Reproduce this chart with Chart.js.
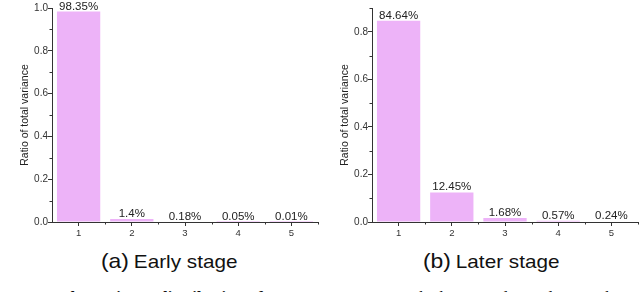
<!DOCTYPE html>
<html>
<head>
<meta charset="utf-8">
<script src="https://cdn.jsdelivr.net/npm/chart.js@4"></script>
<style>
  html, body { margin: 0; padding: 0; background: #fff; }
  #wrap { position: relative; width: 640px; height: 292px; overflow: hidden; background: #fff; }
  canvas { position: absolute; top: 0; }
  .cap { position: absolute; white-space: nowrap; font-family: "Liberation Sans", Arial, sans-serif; color: #111; line-height: 24px; height: 24px; transform: scaleX(1.09); transform-origin: 0 0; }
  .cap .p { font-size: 21px; }
  .cap .t { font-size: 19px; }
  #fig { position: absolute; left: 2px; top: 287.5px; white-space: nowrap; font-family: "Liberation Serif", "Times New Roman", serif; font-size: 17px; line-height: 20px; height: 20px; color: #111; }
</style>
</head>
<body>
<div id="wrap">
  <canvas id="c1" width="320" height="240" style="left:0"></canvas>
  <canvas id="c2" width="320" height="240" style="left:320px"></canvas>
  <div class="cap" id="capA" style="left:101px; top:249px;"><span class="p">(a)</span> <span class="t">Early stage</span></div>
  <div class="cap" id="capB" style="left:423px; top:249px;"><span class="p">(b)</span> <span class="t">Later stage</span></div>
  <div id="fig">Fig. 6:&nbsp;&nbsp; <b>The variance distribution of PCA components.</b>&nbsp;&nbsp; The horizontal axis denotes the</div>
</div>
<script>
// ---- data ----
const categories = ["1", "2", "3", "4", "5"];
const earlyValues = [0.9835, 0.014, 0.0018, 0.0005, 0.0001];
const earlyLabels = ["98.35%", "1.4%", "0.18%", "0.05%", "0.01%"];
const laterValues = [0.8464, 0.1245, 0.0168, 0.0057, 0.0024];
const laterLabels = ["84.64%", "12.45%", "1.68%", "0.57%", "0.24%"];
const earlyYTicks = [0.0, 0.2, 0.4, 0.6, 0.8, 1.0];
const earlyYMinor = [0.1, 0.3, 0.5, 0.7, 0.9];
const earlyYMax = 1.0;
const laterYTicks = [0.0, 0.2, 0.4, 0.6, 0.8];
const laterYMinor = [0.1, 0.3, 0.5, 0.7, 0.9];
const laterYMax = 0.9;
const yTitle = "Ratio of total variance";

const FONT = "'Liberation Sans', Arial, sans-serif";
const AXIS = "#333333";
const BAR = "#EDB3F8";

const barLabelPlugin = {
  id: 'barLabels',
  afterDatasetsDraw(chart) {
    const labels = chart.options.plugins.barLabels.labels;
    const meta = chart.getDatasetMeta(0);
    const ctx = chart.ctx;
    ctx.save();
    ctx.font = "11.5px " + FONT;
    ctx.fillStyle = "#222";
    ctx.textAlign = "center";
    ctx.textBaseline = "alphabetic";
    meta.data.forEach((bar, i) => {
      ctx.fillText(labels[i], bar.x, bar.y - 2);
    });
    ctx.restore();
  }
};

const minorTickPlugin = {
  id: 'minorTicks',
  afterDraw(chart) {
    const minors = chart.options.plugins.minorTicks.values;
    const ctx = chart.ctx;
    const y = chart.scales.y, x = chart.scales.x;
    ctx.save();
    ctx.strokeStyle = AXIS;
    ctx.lineWidth = 1;
    ctx.beginPath();
    minors.forEach(v => {
      if (v > y.max + 1e-9) return;
      const py = Math.round(y.getPixelForValue(v)) + 0.5;
      ctx.moveTo(y.right, py);
      ctx.lineTo(y.right - 2.5, py);
    });
    const n = categories.length;
    const step = x.getPixelForValue(1) - x.getPixelForValue(0);
    for (let i = 0; i < n; i++) {
      const px = Math.round(x.getPixelForValue(i) + step / 2) + 0.5;
      ctx.moveTo(px, x.top);
      ctx.lineTo(px, x.top + 2.5);
    }
    ctx.stroke();
    ctx.restore();
  }
};

function makeChart(id, values, labels, yTicks, yMinor, yMax, yWidth, padRight) {
  return new Chart(document.getElementById(id), {
    type: 'bar',
    data: {
      labels: categories,
      datasets: [{
        data: values,
        backgroundColor: BAR,
        borderWidth: 0,
        categoryPercentage: 1.0,
        barPercentage: 0.814
      }]
    },
    options: {
      responsive: false,
      animation: false,
      devicePixelRatio: 1,
      layout: { padding: { top: 8, right: padRight, left: 0, bottom: 0 } },
      plugins: {
        legend: { display: false },
        tooltip: { enabled: false },
        barLabels: { labels: labels },
        minorTicks: { values: yMinor }
      },
      scales: {
        x: {
          type: 'category',
          offset: true,
          grid: { display: true, offset: false, drawOnChartArea: false, drawTicks: true, tickLength: 4, color: AXIS },
          border: { display: true, color: AXIS, width: 1 },
          ticks: { font: { family: FONT, size: 9.5 }, color: '#333', padding: 2, maxRotation: 0 },
          afterFit: s => { s.height = 18; }
        },
        y: {
          min: 0,
          max: yMax,
          afterBuildTicks: s => { s.ticks = yTicks.map(v => ({ value: v })); },
          grid: { display: true, drawOnChartArea: false, drawTicks: true, tickLength: 4, color: AXIS },
          border: { display: true, color: AXIS, width: 1 },
          ticks: { font: { family: FONT, size: 10 }, color: '#333', padding: 0, callback: v => Number(v).toFixed(1) },
          title: { display: true, text: yTitle, font: { family: FONT, size: 10.5 }, color: '#222', padding: { top: 19, bottom: 0 } },
          afterFit: s => { s.width = yWidth; }
        }
      }
    },
    plugins: [barLabelPlugin, minorTickPlugin]
  });
}

makeChart('c1', earlyValues, earlyLabels, earlyYTicks, earlyYMinor, earlyYMax, 52, 2);
makeChart('c2', laterValues, laterLabels, laterYTicks, laterYMinor, laterYMax, 52, 2);
</script>
</body>
</html>
